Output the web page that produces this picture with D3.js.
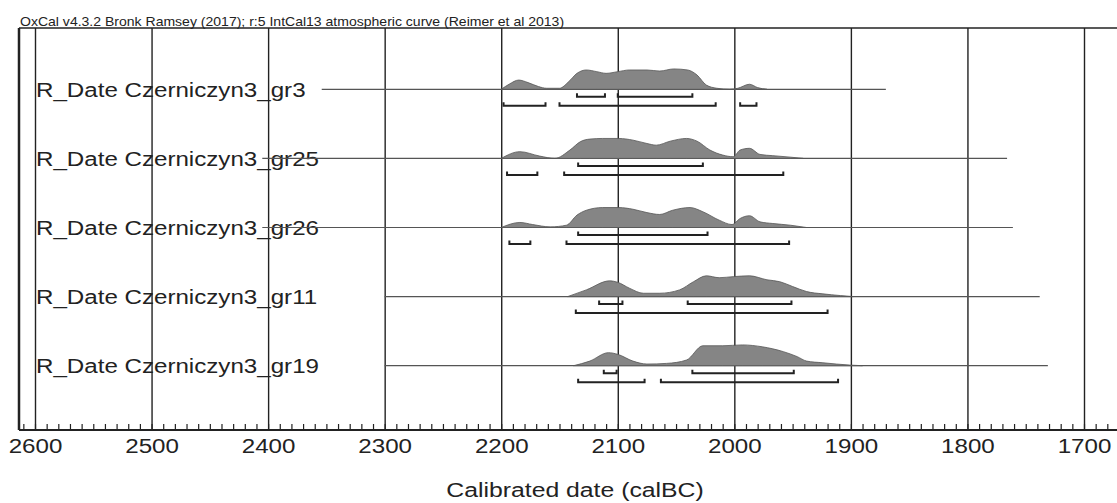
<!DOCTYPE html>
<html>
<head>
<meta charset="utf-8">
<script src="https://d3js.org/d3.v7.min.js"></script>
<style>
    body { margin: 0; background: #fff; }
    text { font-family: "Liberation Sans", Arial, sans-serif; fill: #222; }
</style>
</head>
<body>
<div id="my_dataviz"></div>
<script>
// sample names (one row each)
var labels = ["R_Date Czerniczyn3_gr3", "R_Date Czerniczyn3_gr25", "R_Date Czerniczyn3_gr26",
    "R_Date Czerniczyn3_gr11", "R_Date Czerniczyn3_gr19"];

// thin line range of each row (calBC)
var lineStart = [2354, 2405, 2405, 2300, 2300];
var lineEnd = [1870, 1766, 1761, 1738, 1731];

// probability distributions [year calBC, relative probability]
var dens_gr3 = [[2200,0],[2193,0.25],[2185,0.44],[2177,0.32],[2168,0.13],[2161,0.05],[2150,0.05],[2142,0.37],
    [2135,0.76],[2127,0.92],[2118,0.84],[2110,0.76],[2100,0.84],[2090,0.92],[2075,0.92],[2064,0.87],[2052,0.97],
    [2040,0.92],[2032,0.68],[2024,0.2],[2015,0.05],[2004,0],[1997,0.05],[1987,0.24],[1980,0.08],[1972,0]];
var dens_gr25 = [[2200,0],[2184,0.32],[2167,0.11],[2154,0],[2141,0.4],[2132,0.8],[2124,0.92],[2113,0.95],
    [2099,0.95],[2087,0.87],[2075,0.71],[2067,0.63],[2055,0.82],[2041,0.95],[2032,0.82],[2021,0.4],[2010,0.16],
    [2001,0.08],[1995,0.4],[1987,0.48],[1978,0.19],[1967,0.13],[1952,0.06],[1941,0]];
var dens_gr26 = [[2200,0],[2184,0.24],[2173,0.14],[2158,0.03],[2144,0.11],[2135,0.59],[2127,0.82],[2113,0.95],
    [2099,0.95],[2087,0.87],[2075,0.71],[2064,0.62],[2053,0.82],[2038,0.95],[2027,0.75],[2013,0.35],[2002,0.14],
    [1995,0.43],[1987,0.56],[1978,0.27],[1967,0.19],[1952,0.11],[1938,0]];
var dens_gr11 = [[2143,0],[2127,0.32],[2107,0.75],[2100,0.68],[2090,0.4],[2078,0.16],[2064,0.16],[2047,0.32],
    [2035,0.71],[2024,0.99],[2013,0.9],[2001,0.95],[1987,0.99],[1972,0.8],[1961,0.71],[1950,0.48],[1938,0.24],
    [1924,0.13],[1909,0.05],[1898,0]];
var dens_gr19 = [[2138,0],[2124,0.22],[2108,0.62],[2100,0.54],[2087,0.22],[2075,0.08],[2058,0.11],[2041,0.27],
    [2027,0.95],[2010,0.95],[1993,0.99],[1976,0.9],[1958,0.67],[1946,0.43],[1938,0.22],[1924,0.14],[1901,0.03],
    [1890,0]];
var densities = [dens_gr3, dens_gr25, dens_gr26, dens_gr11, dens_gr19];

// 68.2% and 95.4% ranges
var range68 = [[[2135,2111],[2100,2036]], [[2134,2027]], [[2134,2023]], [[2116,2096],[2040,1951]], [[2112,2101],[2036,1949]]];
var range95 = [[[2198,2162],[2150,2016],[1995,1981]], [[2195,2169],[2146,1958]], [[2193,2175],[2144,1953]],
    [[2136,1920]], [[2134,2077],[2063,1911]]];

var majorTicks = [2600, 2500, 2400, 2300, 2200, 2100, 2000, 1900, 1800, 1700];
var headerText = "OxCal v4.3.2 Bronk Ramsey (2017); r:5 IntCal13 atmospheric curve (Reimer et al 2013)";
var axisTitle = "Calibrated date (calBC)";

var width = 1117, height = 503;
var frame = {left: 19, top: 28, bottom: 430};

var svg = d3.select("#my_dataviz")
    .append("svg")
    .attr("width", width)
    .attr("height", height);

// time runs right to left
var x = d3.scaleLinear().domain([2600, 1700]).range([35, 1084]);
var y = d3.scalePoint().domain(labels).range([89.3, 365.7]);
var h = d3.scaleLinear().domain([0, 1]).range([0, -21]);

// frame
svg.append("line")
    .attr("x1", frame.left).attr("x2", width)
    .attr("y1", frame.top).attr("y2", frame.top)
    .style("stroke", "#222").style("stroke-width", 1.5);
svg.append("line")
    .attr("x1", frame.left).attr("x2", frame.left)
    .attr("y1", frame.top).attr("y2", frame.bottom)
    .style("stroke", "#222").style("stroke-width", 2.5);

// grid lines + labels
var axis = svg.append("g")
    .attr("transform", "translate(0," + frame.bottom + ")")
    .call(d3.axisBottom(x)
        .tickValues(majorTicks)
        .tickSizeInner(-(frame.bottom - frame.top))
        .tickSizeOuter(0)
        .tickPadding(8)
        .tickFormat(d3.format("d")));
axis.select(".domain").remove();
axis.selectAll(".tick line").style("stroke", "#222").style("stroke-width", 1.4);
axis.selectAll(".tick text")
    .attr("font-size", "21px")
    .attr("font-family", "Liberation Sans, Arial, sans-serif")
    .attr("fill", "#222")
    .attr("transform", "scale(1.15,1)");

// minor ticks every 10 years
var minor = svg.append("g")
    .attr("transform", "translate(0," + frame.bottom + ")")
    .call(d3.axisBottom(x)
        .tickValues(d3.range(1670, 2611, 10))
        .tickSizeInner(-6)
        .tickSizeOuter(0)
        .tickFormat(""));
minor.select(".domain").remove();
minor.selectAll(".tick line").style("stroke", "#222").style("stroke-width", 1.2);

svg.append("line")
    .attr("x1", frame.left).attr("x2", width)
    .attr("y1", frame.bottom).attr("y2", frame.bottom)
    .style("stroke", "#222").style("stroke-width", 2.2);

// rows
var area = d3.area()
    .x(function (d) { return x(d[0]); })
    .y0(0)
    .y1(function (d) { return h(d[1]); })
    .curve(d3.curveMonotoneX);

function bracket(g, ranges, dy) {
    for (var k = 0; k < ranges.length; k++) {
        var a = x(ranges[k][0]), b = x(ranges[k][1]);
        g.append("path")
            .attr("d", "M" + a + "," + (dy - 3.5) + "V" + dy + "H" + b + "V" + (dy - 3.5))
            .style("fill", "none")
            .style("stroke", "#222")
            .style("stroke-width", 2);
    }
}

for (var i = 0; i < labels.length; i++) {
    var row = svg.append("g").attr("transform", "translate(0," + y(labels[i]) + ")");

    row.append("text")
        .attr("transform", "translate(36,7.5) scale(1.15,1)")
        .attr("font-size", "21px")
        .text(labels[i]);

    row.append("line")
        .attr("x1", x(lineStart[i])).attr("x2", x(lineEnd[i]))
        .attr("y1", 0).attr("y2", 0)
        .style("stroke", "#555").style("stroke-width", 1.2);

    row.append("path")
        .datum(densities[i])
        .attr("d", area)
        .style("fill", "#858585")
        .style("stroke", "#555")
        .style("stroke-width", 0.8);

    bracket(row, range68[i], 7.5);
    bracket(row, range95[i], 16.5);
}

// header and axis title
svg.append("text")
    .attr("transform", "translate(20,26) scale(1.08,1)")
    .attr("font-size", "13px")
    .text(headerText);

svg.append("text")
    .attr("transform", "translate(575,497) scale(1.18,1)")
    .attr("text-anchor", "middle")
    .attr("font-size", "21px")
    .text(axisTitle);
</script>
</body>
</html>
